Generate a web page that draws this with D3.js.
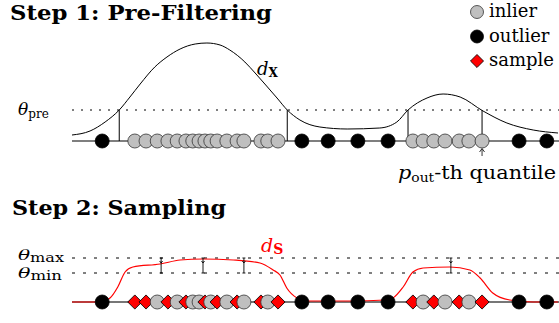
<!DOCTYPE html>
<html>
<head>
<meta charset="utf-8">
<script src="https://cdn.jsdelivr.net/npm/d3@7"></script>
<style>
  body { margin: 0; background: #fff; }
  text { font-family: 'DejaVu Serif', serif; fill: #000; }
</style>
</head>
<body>
<div id="chart"></div>
<script>
//------------------------------------------ Data ------------------------------------------//
// positions on the line are in units 0..100
let outliers = [6.2, 47.2, 52.6, 58.7, 64.9, 91.8, 97.5];
let inliers = [12.9, 15.2, 17.5, 19.7, 21.6, 23.4, 24.8, 26.1, 27.3, 28.5, 29.8, 31.8, 33.9, 35.3,
  38.8, 40.2, 42.3, 70.0, 72.1, 74.3, 76.6, 79.5, 81.5, 84.2];
let sampled = [1, 1, 0, 1, 0, 1, 0, 0, 1, 0, 1, 0, 1, 0, 1, 0, 1, 1, 0, 1, 0, 1, 0, 1];

// d_X density curve
let densX = [0, 3.7, 6.8, 9.7, 11.9, 14.0, 17.0, 19.5, 22.2, 25.3, 27.7, 30.4, 32.4, 35.5, 37.6, 39.6,
  42.1, 44.2, 46.8, 50.9, 56.5, 63.2, 66.7, 69.0, 72.9, 76.2, 79.7, 84.4, 89.3, 94.7, 99.8];
let densY = [0.06, 0.10, 0.19, 0.31, 0.44, 0.57, 0.74, 0.84, 0.92, 0.97, 0.98, 0.96, 0.91, 0.79, 0.68, 0.57,
  0.43, 0.31, 0.21, 0.14, 0.12, 0.13, 0.19, 0.31, 0.43, 0.47, 0.44, 0.30, 0.18, 0.11, 0.08];

// d_S sampling curve
let sampX = [0, 5.7, 7.8, 9.4, 10.9, 12.5, 18.1, 22.2, 26.9, 33.1, 38.6, 41.3, 42.7, 44.1, 46.2, 48.3,
  57.1, 64.3, 65.9, 68.0, 70.0, 72.1, 77.6, 81.7, 83.8, 86.4, 89.9, 94.7, 99.8];
let sampY = [0, 0, 0.08, 0.30, 0.60, 0.70, 0.76, 0.84, 0.86, 0.84, 0.78, 0.64, 0.54, 0.28, 0.08, 0.02,
  0.02, 0.04, 0.08, 0.30, 0.60, 0.68, 0.70, 0.64, 0.48, 0.18, 0.04, 0, 0];

let thetaPre = 0.31, thetaMin = 0.58, thetaMax = 0.88;
let cutoffs = [9.7, 44.2, 69.0, 84.2];
let quantileAt = 84.2;
let errorBars = [18.3, 26.9, 35.3, 77.8];
let legendLabels = ['inlier', 'outlier', 'sample'];

//------------------------------------------ Canvas -----------------------------------------//
let w = 559, h = 323;
let svg = d3.select('#chart').append('svg').attr('width', w).attr('height', h);

let x = d3.scaleLinear().domain([0, 100]).range([72, 559]);
let yTop = d3.scaleLinear().domain([0, 1]).range([141, 41]);
let yBot = d3.scaleLinear().domain([0, 1]).range([302, 252]);

let points = inliers.map((d, i) => ({x: d, type: sampled[i] ? 'sample' : 'inlier'}))
  .concat(outliers.map(d => ({x: d, type: 'outlier'})))
  .sort((a, b) => a.x - b.x);

let diamond = d3.symbol().type(d3.symbolSquare).size(100);
let fillOf = {inlier: '#bfbfbf', outlier: '#000', sample: '#ff0000'};

function drawPoint(g, type, cx, cy, asSample) {
  if (type === 'sample' && asSample) {
    g.append('path').attr('d', diamond)
      .attr('transform', 'translate(' + cx + ',' + cy + ') rotate(45)')
      .attr('fill', fillOf.sample).attr('stroke', '#000').attr('stroke-width', 0.8);
  } else {
    let t = type === 'sample' ? 'inlier' : type;
    g.append('circle').attr('cx', cx).attr('cy', cy).attr('r', 7)
      .attr('fill', fillOf[t]).attr('stroke', t === 'outlier' ? '#000' : '#333').attr('stroke-width', 0.8);
  }
}

//------------------------------------------ Step 1 -----------------------------------------//
svg.append('text').text('Step 1:  Pre-Filtering')
  .attr('x', 10).attr('y', 20).attr('font-size', 21).attr('font-weight', 'bold')
  .attr('textLength', 262).attr('lengthAdjust', 'spacingAndGlyphs');

svg.append('line')
  .attr('x1', x(0)).attr('x2', x(100)).attr('y1', yTop(thetaPre)).attr('y2', yTop(thetaPre))
  .attr('stroke', '#000').attr('stroke-width', 1).attr('stroke-dasharray', '2,7');

let th1 = svg.append('text').attr('x', 18).attr('y', 115);
th1.append('tspan').text('θ').attr('font-style', 'italic').attr('font-size', 17);
th1.append('tspan').text('pre').attr('font-size', 12).attr('dy', 3);

svg.append('path')
  .datum(densX.map((d, i) => [d, densY[i]]))
  .attr('d', d3.line().x(d => x(d[0])).y(d => yTop(d[1])).curve(d3.curveMonotoneX))
  .attr('fill', 'none').attr('stroke', '#000').attr('stroke-width', 1);

svg.selectAll('.cutoff').data(cutoffs).enter().append('line')
  .attr('class', 'cutoff')
  .attr('x1', d => x(d)).attr('x2', d => x(d))
  .attr('y1', yTop(0)).attr('y2', yTop(thetaPre))
  .attr('stroke', '#000').attr('stroke-width', 1);

svg.append('line')
  .attr('x1', x(0)).attr('x2', x(100)).attr('y1', yTop(0)).attr('y2', yTop(0))
  .attr('stroke', '#000').attr('stroke-width', 1.2);

let dx = svg.append('text').attr('x', 257).attr('y', 75);
dx.append('tspan').text('d').attr('font-style', 'italic').attr('font-size', 18);
dx.append('tspan').text('X').attr('font-weight', 'bold').attr('font-size', 12).attr('dy', 2);

let g1 = svg.append('g');
points.forEach(p => drawPoint(g1, p.type, x(p.x), yTop(0), false));

// quantile arrow
svg.append('line')
  .attr('x1', x(quantileAt)).attr('x2', x(quantileAt)).attr('y1', 156).attr('y2', 149)
  .attr('stroke', '#000').attr('stroke-width', 0.8);
svg.append('path')
  .attr('d', 'M' + (x(quantileAt) - 2.5) + ',152 L' + x(quantileAt) + ',148.5 L' + (x(quantileAt) + 2.5) + ',152')
  .attr('fill', 'none').attr('stroke', '#000').attr('stroke-width', 0.8);

let q = svg.append('text').attr('x', 398).attr('y', 179)
  .attr('textLength', 158).attr('lengthAdjust', 'spacingAndGlyphs');
q.append('tspan').text('p').attr('font-style', 'italic').attr('font-size', 18);
q.append('tspan').text('out').attr('font-size', 12).attr('dy', 3);
q.append('tspan').text('-th quantile').attr('font-size', 18).attr('dy', -3);

//------------------------------------------ Legend -----------------------------------------//
let legend = svg.append('g');
legendLabels.forEach((label, i) => {
  let ly = 12 + i * 24.5;
  if (label === 'sample') {
    legend.append('path').attr('d', d3.symbol().type(d3.symbolSquare).size(85))
      .attr('transform', 'translate(477,' + ly + ') rotate(45)')
      .attr('fill', fillOf.sample).attr('stroke', '#000').attr('stroke-width', 0.8);
  } else {
    legend.append('circle').attr('cx', 477).attr('cy', ly).attr('r', 6.5)
      .attr('fill', fillOf[label]).attr('stroke', label === 'outlier' ? '#000' : '#333').attr('stroke-width', 0.8);
  }
  legend.append('text').text(label).attr('x', 489).attr('y', ly + 5).attr('font-size', 18);
});

//------------------------------------------ Step 2 -----------------------------------------//
svg.append('text').text('Step 2:  Sampling')
  .attr('x', 12).attr('y', 215).attr('font-size', 21).attr('font-weight', 'bold')
  .attr('textLength', 214).attr('lengthAdjust', 'spacingAndGlyphs');

[thetaMax, thetaMin].forEach(t => {
  svg.append('line')
    .attr('x1', x(0)).attr('x2', x(100)).attr('y1', yBot(t)).attr('y2', yBot(t))
    .attr('stroke', '#000').attr('stroke-width', 1).attr('stroke-dasharray', '3,8');
});

let thMax = svg.append('text').attr('x', 18).attr('y', 260)
  .attr('textLength', 46).attr('lengthAdjust', 'spacingAndGlyphs');
thMax.append('tspan').text('θ').attr('font-style', 'italic').attr('font-size', 15);
thMax.append('tspan').text('max').attr('font-size', 12).attr('dy', 1.5);
let thMin = svg.append('text').attr('x', 18).attr('y', 278)
  .attr('textLength', 44).attr('lengthAdjust', 'spacingAndGlyphs');
thMin.append('tspan').text('θ').attr('font-style', 'italic').attr('font-size', 15);
thMin.append('tspan').text('min').attr('font-size', 12).attr('dy', 1.5);

svg.append('line')
  .attr('x1', x(0)).attr('x2', x(100)).attr('y1', yBot(0)).attr('y2', yBot(0))
  .attr('stroke', '#777').attr('stroke-width', 2);

svg.append('path')
  .datum(sampX.map((d, i) => [d, sampY[i]]))
  .attr('d', d3.line().x(d => x(d[0])).y(d => yBot(d[1])).curve(d3.curveMonotoneX))
  .attr('fill', 'none').attr('stroke', '#ff0000').attr('stroke-width', 1.2);

errorBars.forEach(e => {
  let ex = x(e);
  let eb = svg.append('g').attr('stroke', '#000').attr('stroke-width', 0.9);
  eb.append('line').attr('x1', ex).attr('x2', ex).attr('y1', yBot(thetaMax)).attr('y2', yBot(thetaMin));
  eb.append('line').attr('x1', ex - 1.5).attr('x2', ex + 1.5).attr('y1', yBot(thetaMax)).attr('y2', yBot(thetaMax));
  eb.append('line').attr('x1', ex - 1.5).attr('x2', ex + 1.5).attr('y1', yBot(thetaMin)).attr('y2', yBot(thetaMin));
  eb.append('path').attr('fill', 'none')
    .attr('d', 'M' + (ex - 1.5) + ',' + (yBot(thetaMax) + 3) + ' L' + ex + ',' + (yBot(thetaMax) + 5) + ' L' + (ex + 1.5) + ',' + (yBot(thetaMax) + 3));
});

let ds = svg.append('text').attr('x', 261).attr('y', 252);
ds.append('tspan').text('d').attr('font-style', 'italic').attr('font-size', 19).style('fill', '#ff0000');
ds.append('tspan').text('S').attr('font-weight', 'bold').attr('font-size', 14).attr('dy', 2).style('fill', '#ff0000');

let g2 = svg.append('g');
points.forEach(p => drawPoint(g2, p.type, x(p.x), yBot(0), true));
</script>
</body>
</html>
